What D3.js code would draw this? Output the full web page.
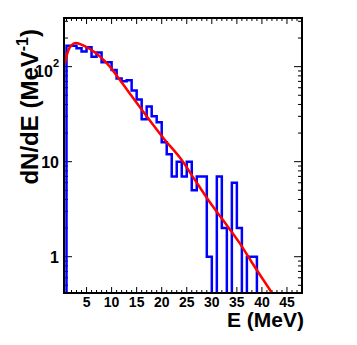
<!DOCTYPE html>
<html>
<head>
<meta charset="utf-8">
<script src="https://cdn.jsdelivr.net/npm/d3@7"></script>
<style>
  body { margin: 0; background: #fff; }
  svg text { font-family: "Liberation Sans", Arial, sans-serif; font-weight: bold; fill: #000; }
</style>
</head>
<body>
<div id="chart"></div>
<script>
// histogram: 1 MeV bins, low edges 0..47
const binEdges = d3.range(0, 49);
const counts = [0, 166, 166, 156, 144, 160, 127, 141, 111, 111,
                92, 75, 70, 72, 56, 45, 28, 38, 30, 26,
                16, 12, 7, 10, 7, 10, 5, 7, 7, 1,
                0, 7, 2, 0, 6, 2, 0, 1, 1, 0,
                0, 0, 0, 0, 0, 0, 0, 0];

// fit curve
const fitE = [0.7, 1.0, 1.4, 2.0, 2.8, 4.0, 5.4, 7.3, 9.3, 11.7, 14, 17, 20.6, 23.7, 27, 30, 32.3, 35.6, 38, 40, 42.5];
const fitN = [108, 128, 150, 168, 177, 170, 156, 133, 105, 72, 49, 30, 17, 10.9, 6.0, 3.5, 2.4, 1.38, 0.87, 0.6, 0.38];

const xTickLabels = [5, 10, 15, 20, 25, 30, 35, 40, 45];
const yTickValues = [1, 10, 100];

const width = 357, height = 345;
const frame = { left: 64, right: 302, top: 18, bottom: 293 };

const svg = d3.select('#chart').append('svg')
  .attr('width', width)
  .attr('height', height);

const x = d3.scaleLinear().domain([0.5, 48]).range([frame.left, frame.right]);
const y = d3.scaleLog().domain([0.415, 325]).range([frame.bottom, frame.top]);

svg.append('clipPath').attr('id', 'clip')
  .append('rect')
  .attr('x', frame.left).attr('y', frame.top)
  .attr('width', frame.right - frame.left)
  .attr('height', frame.bottom - frame.top);

// ticks, pointing inwards on all four sides
const ticks = svg.append('g').attr('stroke', '#000').attr('stroke-width', 1);
const xMinor = d3.range(1, 48);
xMinor.forEach(v => {
  const len = v % 5 === 0 ? 6 : 3;
  ticks.append('line').attr('x1', x(v)).attr('x2', x(v)).attr('y1', frame.bottom).attr('y2', frame.bottom - len);
  ticks.append('line').attr('x1', x(v)).attr('x2', x(v)).attr('y1', frame.top).attr('y2', frame.top + len);
});
const yMinor = [];
[0.1, 1, 10, 100].forEach(d => d3.range(1, 10).forEach(m => yMinor.push(d * m)));
yMinor.filter(v => v >= 0.415 && v <= 325).forEach(v => {
  const len = yTickValues.includes(v) ? 8 : 4;
  ticks.append('line').attr('x1', frame.left).attr('x2', frame.left + len).attr('y1', y(v)).attr('y2', y(v));
  ticks.append('line').attr('x1', frame.right).attr('x2', frame.right - len).attr('y1', y(v)).attr('y2', y(v));
});

const plot = svg.append('g').attr('clip-path', 'url(#clip)');

// histogram outline
const histPts = binEdges.map((e, i) => [e, i < counts.length ? counts[i] : counts[counts.length - 1]]);
const histLine = d3.line()
  .x(d => x(d[0]))
  .y(d => d[1] > 0 ? y(d[1]) : frame.bottom + 10)
  .curve(d3.curveStepAfter);
plot.append('path')
  .attr('d', histLine(histPts))
  .attr('fill', 'none')
  .attr('stroke', '#0000ff')
  .attr('stroke-width', 2.5);

// fit
const fitLine = d3.line()
  .x(d => x(d[0]))
  .y(d => y(d[1]))
  .curve(d3.curveMonotoneX);
plot.append('path')
  .attr('d', fitLine(fitE.map((e, i) => [e, fitN[i]])))
  .attr('fill', 'none')
  .attr('stroke', '#ff0000')
  .attr('stroke-width', 2.5);

// frame
svg.append('rect')
  .attr('x', frame.left).attr('y', frame.top)
  .attr('width', frame.right - frame.left)
  .attr('height', frame.bottom - frame.top)
  .attr('fill', 'none')
  .attr('stroke', '#000')
  .attr('stroke-width', 2);

// x labels
svg.append('g').selectAll('text')
  .data(xTickLabels)
  .enter().append('text')
  .attr('x', d => x(d))
  .attr('y', 306.5)
  .attr('text-anchor', 'middle')
  .style('font-size', '14px')
  .text(d => d);

// y labels
const yLab = svg.append('g');
yTickValues.forEach(v => {
  const t = yLab.append('text')
    .attr('x', 59)
    .attr('y', y(v) + (v === 100 ? 10 : 6.6))
    .attr('text-anchor', 'end')
    .style('font-size', '16px');
  if (v === 100) {
    t.append('tspan').text('10');
    t.append('tspan').attr('dy', -10).style('font-size', '11px').text('2');
  } else {
    t.text(v);
  }
});

// axis titles
svg.append('text')
  .attr('x', 304)
  .attr('y', 327)
  .attr('text-anchor', 'end')
  .style('font-size', '21px')
  .text('E (MeV)');

const yt = svg.append('text')
  .attr('transform', 'translate(38,29) rotate(-90)')
  .attr('text-anchor', 'end')
  .style('font-size', '24px');
yt.append('tspan').text('dN/dE (MeV');
yt.append('tspan').attr('dy', -10).style('font-size', '16px').text('-1');
yt.append('tspan').attr('dy', 10).text(')');
</script>
</body>
</html>
